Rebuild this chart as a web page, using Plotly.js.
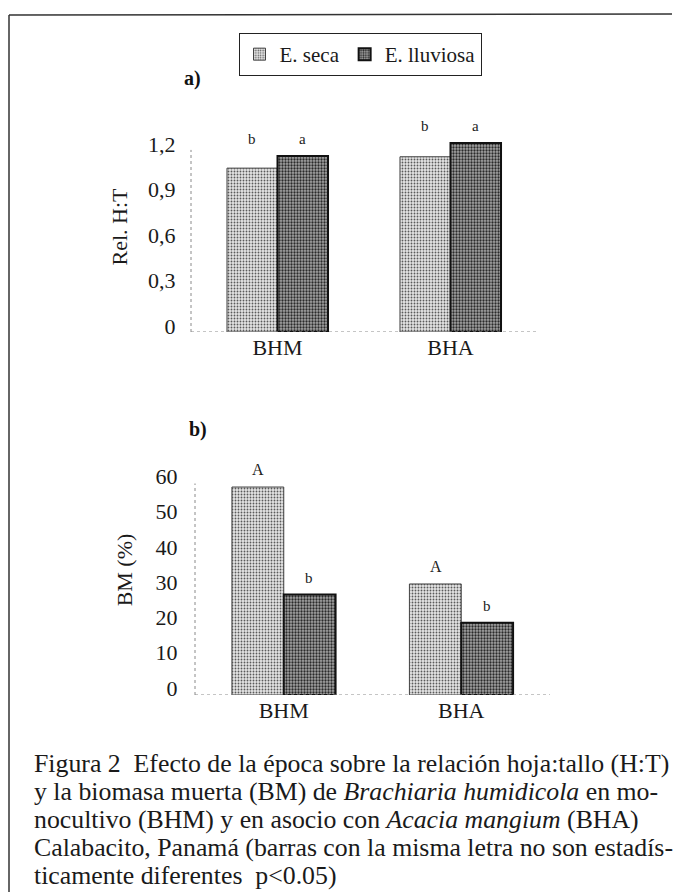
<!DOCTYPE html>
<html>
<head>
<meta charset="utf-8">
<script src="https://cdn.plot.ly/plotly-3.0.1.min.js"></script>
<style>html,body{margin:0;padding:0;background:#fff;}#chart{width:675px;height:892px;}</style>
</head>
<body>
<div id="chart"></div>
<script>
// ---- data ----
var categories = ['BHM', 'BHA'];
var seriesNames = ['E. seca', 'E. lluviosa'];
var relHT_seca = [1.08, 1.155];
var relHT_lluviosa = [1.16, 1.245];
var bm_seca = [59, 31.5];
var bm_lluviosa = [28.5, 20.5];
var lettersTop_seca = ['b', 'b'];
var lettersTop_lluviosa = ['a', 'a'];
var lettersBot_seca = ['A', 'A'];
var lettersBot_lluviosa = ['b', 'b'];
var ticksTop = [0, 0.3, 0.6, 0.9, 1.2];
var ticksTopText = ['0', '0,3', '0,6', '0,9', '1,2'];
var ticksBot = [0, 10, 20, 30, 40, 50, 60];
var captionLines = [
  'Figura 2  Efecto de la época sobre la relación hoja:tallo (H:T)',
  'y la biomasa muerta (BM) de <i>Brachiaria humidicola</i> en mo-',
  'nocultivo (BHM) y en asocio con <i>Acacia mangium</i> (BHA)',
  'Calabacito, Panamá (barras con la misma letra no son estadís-',
  'ticamente diferentes  p&lt;0.05)'
];

// ---- styles ----
var FONT = 'Liberation Serif, Times New Roman, serif';
var W = 675, H = 892;
var gapTop = 0.416, gapBot = 0.43;
var secaMarker = {
  color: '#d6d6d6',
  pattern: {shape: '.', bgcolor: '#e4e4e4', fgcolor: '#5a5a5a', size: 3, solidity: 0.3},
  line: {color: '#444', width: 1}
};
var lluvMarker = {
  color: '#9a9a9a',
  pattern: {shape: '.', bgcolor: '#a4a4a4', fgcolor: '#2a2a2a', size: 3, solidity: 0.45},
  line: {color: '#111', width: 2}
};

var traces = [
  {type: 'bar', name: seriesNames[0], x: categories, y: relHT_seca, marker: secaMarker, xaxis: 'x', yaxis: 'y', legendgroup: 's', showlegend: true},
  {type: 'bar', name: seriesNames[1], x: categories, y: relHT_lluviosa, marker: lluvMarker, xaxis: 'x', yaxis: 'y', legendgroup: 'l', showlegend: true},
  {type: 'bar', name: seriesNames[0], x: categories, y: bm_seca, marker: secaMarker, xaxis: 'x2', yaxis: 'y2', legendgroup: 's', showlegend: false},
  {type: 'bar', name: seriesNames[1], x: categories, y: bm_lluviosa, marker: lluvMarker, xaxis: 'x2', yaxis: 'y2', legendgroup: 'l', showlegend: false}
];

function px2x(p) { return p / W; }
function py2y(p) { return (H - p) / H; }

var annotations = [];
function letter(xref, yref, xi, off, yv, txt, size) {
  annotations.push({xref: xref, yref: yref, x: xi + off, y: yv, text: txt, showarrow: false,
    xanchor: 'center', yanchor: 'bottom', yshift: 7, font: {family: FONT, size: size, color: '#222'}});
}
var offTop = (1 - gapTop) / 4, offBot = (1 - gapBot) / 4;
categories.forEach(function (c, i) {
  var m = Math.max(relHT_seca[i], relHT_lluviosa[i]);
  letter('x', 'y', i, -offTop, m, lettersTop_seca[i], 15);
  letter('x', 'y', i, offTop, m, lettersTop_lluviosa[i], 15);
  letter('x2', 'y2', i, -offBot, bm_seca[i], lettersBot_seca[i], 16);
  letter('x2', 'y2', i, offBot, bm_lluviosa[i], lettersBot_lluviosa[i], 15);
});
annotations.push({xref: 'paper', yref: 'paper', x: px2x(192), y: py2y(78), xanchor: 'center', yanchor: 'middle',
  text: '<b>a)</b>', showarrow: false, font: {family: FONT, size: 20, color: '#111'}});
annotations.push({xref: 'paper', yref: 'paper', x: px2x(198), y: py2y(430), xanchor: 'center', yanchor: 'middle',
  text: '<b>b)</b>', showarrow: false, font: {family: FONT, size: 20, color: '#111'}});
captionLines.forEach(function (t, i) {
  annotations.push({xref: 'paper', yref: 'paper', x: px2x(32), xanchor: 'left', y: py2y(763 + i * 28), yanchor: 'middle',
    text: t, showarrow: false, align: 'left', font: {family: FONT, size: 25.8, color: '#1a1a1a'}});
});

var dot = {color: '#8a8a8a', width: 1, dash: 'dot'};
var shapes = [
  {type: 'line', xref: 'x domain', yref: 'y', x0: 0, x1: 0, y0: 0, y1: 1.2, line: dot},
  {type: 'line', xref: 'x domain', yref: 'y', x0: 0, x1: 1, y0: 0, y1: 0, line: dot},
  {type: 'line', xref: 'x2 domain', yref: 'y2', x0: 0, x1: 0, y0: 0, y1: 60, line: dot},
  {type: 'line', xref: 'x2 domain', yref: 'y2', x0: 0, x1: 1, y0: 0, y1: 0, line: dot},
  {type: 'line', xref: 'paper', yref: 'paper', x0: px2x(9), x1: px2x(672), y0: py2y(15), y1: py2y(14), line: {color: '#333', width: 1.5}},
  {type: 'line', xref: 'paper', yref: 'paper', x0: px2x(9), x1: px2x(9), y0: py2y(15), y1: 0, line: {color: '#333', width: 1.5}}
];

var axFont = {family: FONT, size: 22, color: '#1a1a1a'};
var layout = {
  width: W, height: H,
  margin: {l: 0, r: 0, t: 0, b: 0},
  paper_bgcolor: '#fff', plot_bgcolor: 'rgba(0,0,0,0)',
  barmode: 'group',
  font: {family: FONT, color: '#1a1a1a'},
  showlegend: true,
  legend: {orientation: 'h', x: px2x(360), xanchor: 'center', y: py2y(33), yanchor: 'top',
    bordercolor: '#222', borderwidth: 1, bgcolor: '#fff', font: {family: FONT, size: 21, color: '#1a1a1a'},
    itemwidth: 30, traceorder: 'normal'},
  xaxis: {domain: [px2x(191), px2x(537)], anchor: 'y', showline: false, showgrid: false, zeroline: false,
    ticks: '', tickfont: axFont, fixedrange: true},
  yaxis: {domain: [py2y(332), py2y(122)], anchor: 'x', range: [0, 1.384], showline: false, showgrid: false, zeroline: false,
    tickvals: ticksTop, ticktext: ticksTopText, ticks: 'outside', ticklen: 10, tickcolor: 'rgba(0,0,0,0)',
    tickfont: axFont, ticklabelshift: -6,
    title: {text: 'Rel. H:T', font: axFont, standoff: 14}},
  xaxis2: {domain: [px2x(195), px2x(550)], anchor: 'y2', showline: false, showgrid: false, zeroline: false,
    ticks: '', tickfont: axFont, fixedrange: true},
  yaxis2: {domain: [py2y(695), py2y(445)], anchor: 'x2', range: [0, 70.92], showline: false, showgrid: false, zeroline: false,
    tickvals: ticksBot, ticks: 'outside', ticklen: 12, tickcolor: 'rgba(0,0,0,0)',
    tickfont: axFont, ticklabelshift: -7,
    title: {text: 'BM (%)', font: axFont, standoff: 16}},
  bargap: gapTop,
  bargroupgap: 0,
  annotations: annotations,
  shapes: shapes
};

Plotly.newPlot('chart', traces, layout, {staticPlot: true, displayModeBar: false});
</script>
</body>
</html>
